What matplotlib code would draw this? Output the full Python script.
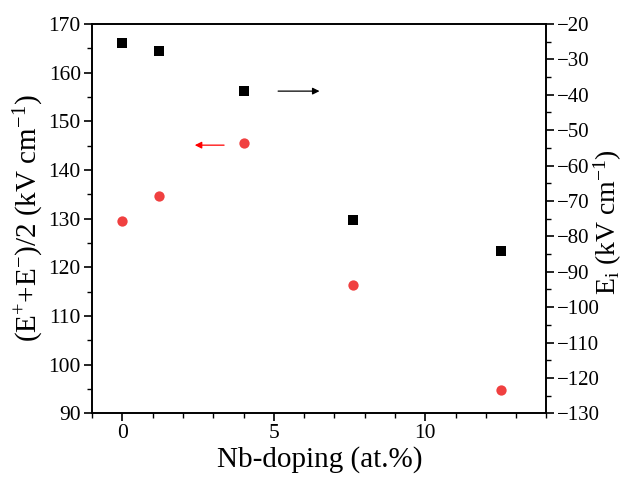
import matplotlib
matplotlib.use("Agg")
import matplotlib.pyplot as plt
from matplotlib.ticker import MultipleLocator

plt.rcParams['font.family'] = ['Liberation Serif', 'DejaVu Serif']
plt.rcParams['mathtext.fontset'] = 'custom'
plt.rcParams['mathtext.rm'] = 'Liberation Serif'
plt.rcParams['mathtext.it'] = 'Liberation Serif:italic'

nb_doping = [0, 1.2, 4.0, 7.6, 12.5]
avg_field = [129.5, 134.7, 145.6, 116.4, 94.9]     # left axis, red circles
ei_field = [-25.4, -27.6, -38.9, -75.4, -84.1]      # right axis, black squares

red = '#F04040'

fig = plt.figure(figsize=(6.26, 4.79), dpi=100)
ax = fig.add_axes([0.147, 0.137, 0.726, 0.813])
ax2 = ax.twinx()

ax.scatter(nb_doping, avg_field, s=55, marker='o', color=red, zorder=3, linewidths=0)
ax2.scatter(nb_doping, ei_field, s=45, marker='s', color='black', zorder=3, linewidths=0)

ax.set_xlim(-1, 14)
ax.set_ylim(90, 170)
ax2.set_ylim(-130, -20)

ax.xaxis.set_major_locator(MultipleLocator(5))
ax.xaxis.set_minor_locator(MultipleLocator(1))
ax.yaxis.set_major_locator(MultipleLocator(10))
ax.yaxis.set_minor_locator(MultipleLocator(5))
ax2.yaxis.set_major_locator(MultipleLocator(10))
ax2.yaxis.set_minor_locator(MultipleLocator(5))

for a in (ax, ax2):
    for s in a.spines.values():
        s.set_linewidth(1.2)
ax.tick_params(axis='both', which='major', direction='out', length=6, width=1.2, labelsize=15.5, pad=2, top=False)
ax.tick_params(axis='both', which='minor', direction='out', length=3.5, width=1.0, top=False)
ax2.tick_params(axis='y', which='major', direction='out', length=6, width=1.2, labelsize=15, pad=1.5)
ax2.tick_params(axis='y', which='minor', direction='out', length=3.5, width=1.0)

ax.set_xlabel('Nb-doping (at.%)', fontsize=21, labelpad=2)
ax.set_ylabel(r'(E$^{+}$+E$^{-}$)/2 (kV cm$^{-1}$)', fontsize=21, labelpad=2)
ax2.set_ylabel(r'E$_{\mathrm{i}}$ (kV cm$^{-1}$)', fontsize=20)
ax2.yaxis.set_label_coords(1.1, 0.49)

# direction arrows
ax.annotate('', xy=(6.6, 156.2), xytext=(5.05, 156.2),
            arrowprops=dict(arrowstyle='-|>', color='black', lw=0.9, mutation_scale=10))
ax.annotate('', xy=(2.3, 145.1), xytext=(3.45, 145.1),
            arrowprops=dict(arrowstyle='-|>', color='red', lw=0.9, mutation_scale=10))

fig.savefig('out.png', dpi=100)
